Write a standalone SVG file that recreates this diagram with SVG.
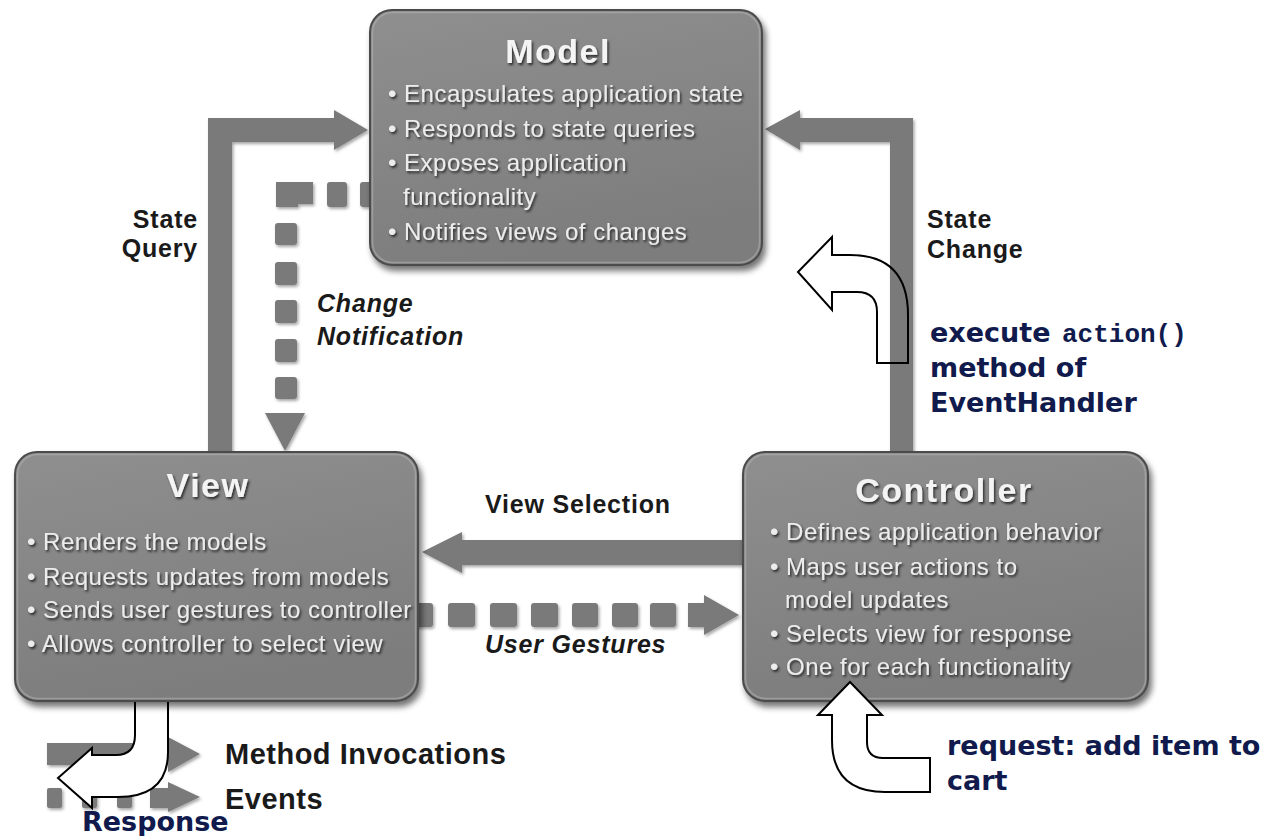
<svg xmlns="http://www.w3.org/2000/svg" width="1267" height="836" viewBox="0 0 1267 836">
  <defs>
    <style>
      .box-body { fill: url(#boxFill); stroke: #4c4c4c; stroke-width: 2; }
      .box-rim { fill: none; stroke: #b4b4b4; stroke-opacity: 0.55; stroke-width: 1.5; }
      .title { font-family: "Liberation Sans", Arial, sans-serif; font-weight: bold; font-size: 34px; letter-spacing: 1.5px; fill: #f4f4f4; text-anchor: middle; filter: url(#emboss); }
      .bullet { font-family: "Liberation Sans", Arial, sans-serif; font-size: 24px; letter-spacing: 0.5px; fill: #ececec; filter: url(#emboss); }
      .flow { fill: #7a7a7a; filter: url(#soft); }
      .label { font-family: "Liberation Sans", Arial, sans-serif; font-weight: bold; font-size: 25px; letter-spacing: 0.8px; fill: #1a1a1a; }
      .label-i { font-family: "Liberation Sans", Arial, sans-serif; font-weight: bold; font-style: italic; font-size: 25px; letter-spacing: 0.8px; fill: #1a1a1a; }
      .legend { font-family: "Liberation Sans", Arial, sans-serif; font-weight: bold; font-size: 29px; letter-spacing: 0.5px; fill: #1a1a1a; }
      .note { font-family: "DejaVu Sans", Verdana, sans-serif; font-weight: bold; font-size: 27px; fill: #101a4c; }
      .code { font-family: "Liberation Mono", "Courier New", monospace; font-weight: bold; font-size: 26px; fill: #101a4c; }
      .hollow { fill: #ffffff; stroke: #000000; stroke-width: 2; stroke-linejoin: miter; }
      .hollow-line { fill: none; stroke: #000000; stroke-width: 2; }
    </style>
    <linearGradient id="boxFill" x1="0" y1="0" x2="0.3" y2="1">
      <stop offset="0" stop-color="#8f8f8f"/>
      <stop offset="1" stop-color="#7d7d7d"/>
    </linearGradient>
    <filter id="boxShadow" x="-5%" y="-5%" width="112%" height="115%">
      <feGaussianBlur in="SourceAlpha" stdDeviation="3"/>
      <feOffset dx="3" dy="5" result="blur"/>
      <feComponentTransfer><feFuncA type="linear" slope="0.55"/></feComponentTransfer>
      <feMerge><feMergeNode/><feMergeNode in="SourceGraphic"/></feMerge>
    </filter>
    <filter id="emboss" x="-5%" y="-20%" width="110%" height="150%">
      <feDropShadow dx="1.5" dy="2" stdDeviation="1.2" flood-color="#202020" flood-opacity="0.9"/>
    </filter>
    <filter id="soft" x="-10%" y="-10%" width="125%" height="125%">
      <feDropShadow dx="1.5" dy="2" stdDeviation="1.5" flood-color="#000000" flood-opacity="0.35"/>
    </filter>
  </defs>

  <rect width="1267" height="836" fill="#ffffff"/>

  <!-- connectors between the three components -->
  <g id="connectors">
    <!-- State Query: View up to Model -->
    <g id="state-query" class="flow">
      <path d="M208 452 L208 118 L334 118 L334 110 L368 130 L334 150 L334 142 L232 142 L232 452 Z"/>
    </g>
    <!-- State Change: Controller up to Model -->
    <g id="state-change" class="flow">
      <path d="M913 452 L913 118 L800 118 L800 110 L765 129 L800 150 L800 142 L890 142 L890 452 Z"/>
    </g>
    <!-- Change Notification: dashed, Model down to View -->
    <g id="change-notification" class="flow">
      <rect x="360" y="182" width="14" height="25" rx="3"/>
      <rect x="327" y="182" width="20" height="25" rx="3"/>
      <path d="M276 182 L313 182 L313 204 L298 204 L298 207 L276 207 Z"/>
      <rect x="275" y="223" width="22" height="22" rx="3"/>
      <rect x="275" y="262" width="22" height="23" rx="3"/>
      <rect x="275" y="300" width="22" height="23" rx="3"/>
      <rect x="275" y="339" width="22" height="23" rx="3"/>
      <rect x="275" y="377" width="22" height="22" rx="3"/>
      <path d="M265 413 L305 413 L285 451 Z"/>
    </g>
    <!-- View Selection: Controller to View -->
    <g id="view-selection" class="flow">
      <path d="M745 540 L462 540 L462 532 L422 552 L462 573 L462 565 L745 565 Z"/>
    </g>
    <!-- User Gestures: dashed, View to Controller -->
    <g id="user-gestures" class="flow">
      <rect x="412" y="603" width="21" height="24" rx="3"/>
      <rect x="448" y="603" width="27" height="24" rx="3"/>
      <rect x="490" y="603" width="27" height="24" rx="3"/>
      <rect x="531" y="603" width="27" height="24" rx="3"/>
      <rect x="572" y="603" width="26" height="24" rx="3"/>
      <rect x="612" y="603" width="26" height="24" rx="3"/>
      <rect x="650" y="603" width="26" height="24" rx="3"/>
      <path d="M688 603 L704 603 L704 595 L739 615 L704 635 L704 627 L688 627 Z"/>
    </g>
  </g>

  <!-- connector labels -->
  <g id="connector-labels">
    <text class="label" x="198" y="228" text-anchor="end">State</text>
    <text class="label" x="198" y="257" text-anchor="end">Query</text>
    <text class="label" x="927" y="228">State</text>
    <text class="label" x="927" y="258">Change</text>
    <text class="label-i" x="317" y="312">Change</text>
    <text class="label-i" x="317" y="345">Notification</text>
    <text class="label" x="485" y="513">View Selection</text>
    <text class="label-i" x="485" y="653">User Gestures</text>
  </g>

  <!-- legend -->
  <g id="legend">
    <g class="flow">
      <path d="M47 743 L168 743 L168 737 L200 754 L168 772 L168 765 L47 765 Z"/>
      <rect x="47" y="788" width="15" height="20" rx="2"/>
      <rect x="82" y="788" width="15" height="20" rx="2"/>
      <rect x="117" y="788" width="15" height="20" rx="2"/>
      <path d="M150 788 L168 788 L168 782 L200 797 L168 812 L168 808 L150 808 Z"/>
    </g>
    <text class="legend" x="225" y="764">Method Invocations</text>
    <text class="legend" x="225" y="809">Events</text>
  </g>

  <!-- response returned from the view -->
  <g id="response">
    <path class="hollow" d="M135 700 L168 700 L168 752 Q168 797 118 797 L92 797 L92 808 L58 778 L92 748 L92 755 L116 755 Q135 755 135 735 Z"/>
    <text class="note" x="82" y="831">Response</text>
  </g>

  <!-- Model -->
  <g id="model" filter="url(#boxShadow)">
    <rect class="box-body" x="370" y="10" width="392" height="255" rx="22"/>
    <rect class="box-rim" x="372.5" y="12.5" width="387" height="250" rx="20"/>
    <text class="title" x="558" y="63">Model</text>
    <text class="bullet" x="388" y="102">• Encapsulates application state</text>
    <text class="bullet" x="388" y="137">• Responds to state queries</text>
    <text class="bullet" x="388" y="171">• Exposes application</text>
    <text class="bullet" x="403" y="205">functionality</text>
    <text class="bullet" x="388" y="240">• Notifies views of changes</text>
  </g>

  <!-- View -->
  <g id="view" filter="url(#boxShadow)">
    <rect class="box-body" x="15" y="452" width="403" height="249" rx="22"/>
    <rect class="box-rim" x="17.5" y="454.5" width="398" height="244" rx="20"/>
    <text class="title" x="208" y="497">View</text>
    <text class="bullet" x="27" y="550">• Renders the models</text>
    <text class="bullet" x="27" y="585">• Requests updates from models</text>
    <text class="bullet" x="27" y="618">• Sends user gestures to controller</text>
    <text class="bullet" x="27" y="652">• Allows controller to select view</text>
  </g>

  <!-- Controller -->
  <g id="controller" filter="url(#boxShadow)">
    <rect class="box-body" x="743" y="452" width="405" height="249" rx="22"/>
    <rect class="box-rim" x="745.5" y="454.5" width="400" height="244" rx="20"/>
    <text class="title" x="944" y="502">Controller</text>
    <text class="bullet" x="770" y="540">• Defines application behavior</text>
    <text class="bullet" x="770" y="575">• Maps user actions to</text>
    <text class="bullet" x="785" y="608">model updates</text>
    <text class="bullet" x="770" y="642">• Selects view for response</text>
    <text class="bullet" x="770" y="675">• One for each functionality</text>
  </g>

  <!-- request entering the controller -->
  <g id="request">
    <path class="hollow" d="M850 682 L882 715 L867 715 L867 742 Q867 758 883 758 L930 758 L930 792 L885 792 Q832 792 832 740 L832 715 L818 715 Z"/>
    <text class="note" x="947" y="755">request: add item to</text>
    <text class="note" x="947" y="790">cart</text>
  </g>

  <!-- controller runs the handler and updates the model -->
  <g id="execute-action">
    <path class="hollow-line" d="M798 272 L832 237 L832 255 L850 255 Q908 255 908 315 L908 363 L877 363 L877 312 Q877 292 857 292 L832 292 L832 310 Z"/>
    <text class="note" x="930" y="342">execute <tspan class="code" x="1062">action()</tspan></text>
    <text class="note" x="930" y="377">method of</text>
    <text class="note" x="930" y="412">EventHandler</text>
  </g>
</svg>
